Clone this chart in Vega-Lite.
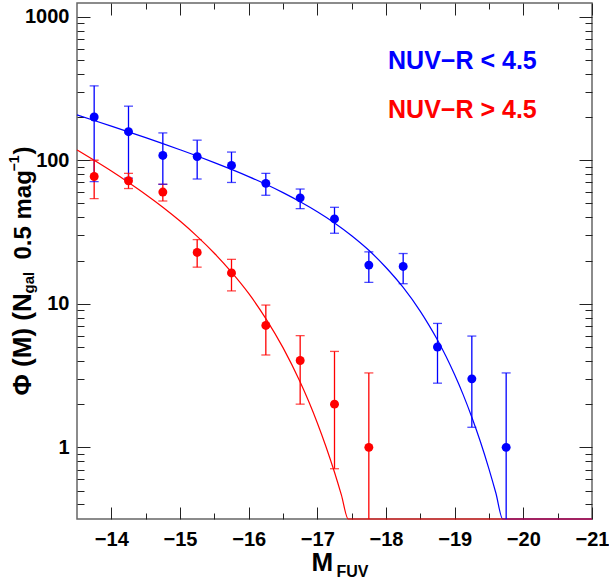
{
  "$schema": "https://vega.github.io/schema/vega-lite/v6.json",
  "width": 515,
  "height": 516,
  "autosize": {"type": "none"},
  "padding": {"left": 77, "top": 3, "right": 17, "bottom": 63},
  "config": {
    "view": {"stroke": "#666666", "strokeWidth": 1.5},
    "font": "Liberation Sans",
    "axis": {
      "labelFont": "Liberation Sans", "labelFontWeight": "bold", "labelFontSize": 20, "labelColor": "#000000",
      "titleFont": "Liberation Sans", "titleFontWeight": "bold", "titleColor": "#000000",
      "tickColor": "#222222", "tickWidth": 1, "domain": false, "grid": false,
      "labelFlush": false, "labelOverlap": false, "labelBound": false
    }
  },
  "datasets": {
    "curves": [
      {"series": "NUV−R < 4.5", "M": -13.5, "phi": 206.9},
      {"series": "NUV−R < 4.5", "M": -13.75, "phi": 189.2},
      {"series": "NUV−R < 4.5", "M": -14.0, "phi": 172.8},
      {"series": "NUV−R < 4.5", "M": -14.25, "phi": 157.6},
      {"series": "NUV−R < 4.5", "M": -14.5, "phi": 143.6},
      {"series": "NUV−R < 4.5", "M": -14.75, "phi": 130.5},
      {"series": "NUV−R < 4.5", "M": -15.0, "phi": 118.3},
      {"series": "NUV−R < 4.5", "M": -15.25, "phi": 107.0},
      {"series": "NUV−R < 4.5", "M": -15.5, "phi": 96.3},
      {"series": "NUV−R < 4.5", "M": -15.75, "phi": 86.3},
      {"series": "NUV−R < 4.5", "M": -16.0, "phi": 76.9},
      {"series": "NUV−R < 4.5", "M": -16.25, "phi": 68.0},
      {"series": "NUV−R < 4.5", "M": -16.5, "phi": 59.5},
      {"series": "NUV−R < 4.5", "M": -16.75, "phi": 51.4},
      {"series": "NUV−R < 4.5", "M": -17.0, "phi": 43.8},
      {"series": "NUV−R < 4.5", "M": -17.25, "phi": 36.6},
      {"series": "NUV−R < 4.5", "M": -17.5, "phi": 29.8},
      {"series": "NUV−R < 4.5", "M": -17.75, "phi": 23.6},
      {"series": "NUV−R < 4.5", "M": -18.0, "phi": 17.9},
      {"series": "NUV−R < 4.5", "M": -18.25, "phi": 13.0},
      {"series": "NUV−R < 4.5", "M": -18.5, "phi": 8.86},
      {"series": "NUV−R < 4.5", "M": -18.625, "phi": 7.11},
      {"series": "NUV−R < 4.5", "M": -18.75, "phi": 5.6},
      {"series": "NUV−R < 4.5", "M": -18.875, "phi": 4.29},
      {"series": "NUV−R < 4.5", "M": -19.0, "phi": 3.2},
      {"series": "NUV−R < 4.5", "M": -19.125, "phi": 2.32},
      {"series": "NUV−R < 4.5", "M": -19.25, "phi": 1.62},
      {"series": "NUV−R < 4.5", "M": -19.375, "phi": 1.094},
      {"series": "NUV−R < 4.5", "M": -19.5, "phi": 0.706},
      {"series": "NUV−R < 4.5", "M": -19.6, "phi": 0.481},
      {"series": "NUV−R < 4.5", "M": -19.7, "phi": 0.316},
      {"series": "NUV−R < 4.5", "M": -19.8, "phi": 0.2006},
      {"series": "NUV−R < 4.5", "M": -20.0, "phi": 0.071},
      {"series": "NUV−R < 4.5", "M": -21.0, "phi": 0.0000085},
      {"series": "NUV−R > 4.5", "M": -13.5, "phi": 117.9},
      {"series": "NUV−R > 4.5", "M": -13.75, "phi": 99.8},
      {"series": "NUV−R > 4.5", "M": -14.0, "phi": 84.0},
      {"series": "NUV−R > 4.5", "M": -14.25, "phi": 70.0},
      {"series": "NUV−R > 4.5", "M": -14.5, "phi": 57.8},
      {"series": "NUV−R > 4.5", "M": -14.75, "phi": 47.1},
      {"series": "NUV−R > 4.5", "M": -15.0, "phi": 37.7},
      {"series": "NUV−R > 4.5", "M": -15.25, "phi": 29.5},
      {"series": "NUV−R > 4.5", "M": -15.5, "phi": 22.5},
      {"series": "NUV−R > 4.5", "M": -15.75, "phi": 16.6},
      {"series": "NUV−R > 4.5", "M": -16.0, "phi": 11.8},
      {"series": "NUV−R > 4.5", "M": -16.25, "phi": 7.89},
      {"series": "NUV−R > 4.5", "M": -16.5, "phi": 4.95},
      {"series": "NUV−R > 4.5", "M": -16.75, "phi": 2.85},
      {"series": "NUV−R > 4.5", "M": -16.875, "phi": 2.085},
      {"series": "NUV−R > 4.5", "M": -17.0, "phi": 1.48},
      {"series": "NUV−R > 4.5", "M": -17.125, "phi": 1.015},
      {"series": "NUV−R > 4.5", "M": -17.25, "phi": 0.671},
      {"series": "NUV−R > 4.5", "M": -17.35, "phi": 0.467},
      {"series": "NUV−R > 4.5", "M": -17.45, "phi": 0.316},
      {"series": "NUV−R > 4.5", "M": -17.55, "phi": 0.207},
      {"series": "NUV−R > 4.5", "M": -18.0, "phi": 0.0189},
      {"series": "NUV−R > 4.5", "M": -21.0, "phi": 1e-20}
    ],
    "points": [
      {"series": "NUV−R < 4.5", "M": -13.75, "phi": 200, "lo": 71, "hi": 330},
      {"series": "NUV−R < 4.5", "M": -14.25, "phi": 158, "lo": 75, "hi": 238},
      {"series": "NUV−R < 4.5", "M": -14.75, "phi": 108, "lo": 68, "hi": 155},
      {"series": "NUV−R < 4.5", "M": -15.25, "phi": 106, "lo": 74, "hi": 138},
      {"series": "NUV−R < 4.5", "M": -15.75, "phi": 92, "lo": 70, "hi": 114},
      {"series": "NUV−R < 4.5", "M": -16.25, "phi": 69, "lo": 57, "hi": 81},
      {"series": "NUV−R < 4.5", "M": -16.75, "phi": 54.7, "lo": 46, "hi": 63},
      {"series": "NUV−R < 4.5", "M": -17.25, "phi": 39, "lo": 31, "hi": 47},
      {"series": "NUV−R < 4.5", "M": -17.75, "phi": 18.6, "lo": 14.1, "hi": 23},
      {"series": "NUV−R < 4.5", "M": -18.25, "phi": 18.2, "lo": 13.8, "hi": 22.4},
      {"series": "NUV−R < 4.5", "M": -18.75, "phi": 5.0, "lo": 2.8, "hi": 7.3},
      {"series": "NUV−R < 4.5", "M": -19.25, "phi": 3.0, "lo": 1.38, "hi": 5.96},
      {"series": "NUV−R < 4.5", "M": -19.75, "phi": 1.0, "lo": 0.1, "hi": 3.3},
      {"series": "NUV−R > 4.5", "M": -13.75, "phi": 77, "lo": 54, "hi": 100},
      {"series": "NUV−R > 4.5", "M": -14.25, "phi": 72, "lo": 63.5, "hi": 81},
      {"series": "NUV−R > 4.5", "M": -14.75, "phi": 60, "lo": 52, "hi": 68},
      {"series": "NUV−R > 4.5", "M": -15.25, "phi": 22.8, "lo": 18, "hi": 28},
      {"series": "NUV−R > 4.5", "M": -15.75, "phi": 16.4, "lo": 12.3, "hi": 20.4},
      {"series": "NUV−R > 4.5", "M": -16.25, "phi": 7.07, "lo": 4.4, "hi": 9.8},
      {"series": "NUV−R > 4.5", "M": -16.75, "phi": 4.03, "lo": 2.0, "hi": 6.0},
      {"series": "NUV−R > 4.5", "M": -17.25, "phi": 2.0, "lo": 0.71, "hi": 4.66},
      {"series": "NUV−R > 4.5", "M": -17.75, "phi": 1.0, "lo": 0.1, "hi": 3.3}
    ]
  },
  "resolve": {
    "scale": {"x": "shared", "y": "shared", "color": "shared"},
    "axis": {"x": "independent", "y": "independent"}
  },
  "layer": [
    {
      "data": {"name": "curves"},
      "mark": {"type": "line", "strokeWidth": 1.2, "interpolate": "monotone"},
      "encoding": {
        "x": {"field": "M", "type": "quantitative",
          "scale": {"domain": [-21, -13.5], "reverse": true, "nice": false, "zero": false},
          "axis": {"orient": "bottom", "values": [-14, -15, -16, -17, -18, -19, -20, -21], "ticks": false, "labels": true, "labelPadding": 10, "format": "d",
            "title": "M", "titleX": 234, "titleY": 51, "titleAlign": "left", "titleBaseline": "alphabetic", "titleAngle": 0, "titleFontSize": 26}},
        "y": {"field": "phi", "type": "quantitative",
          "scale": {"type": "log", "domain": [0.317, 1245], "nice": false, "clamp": true},
          "axis": {"orient": "left", "values": [1, 10, 100, 1000], "ticks": false, "labels": true, "labelPadding": 8, "format": "d",
            "title": "Φ (M) (N", "titleX": -47, "titleY": 392, "titleAngle": -90, "titleAlign": "left", "titleBaseline": "alphabetic", "titleFontSize": 26}},
        "color": {"field": "series", "type": "nominal", "scale": {"domain": ["NUV−R < 4.5", "NUV−R > 4.5"], "range": ["#0000ff", "#ff0000"]}, "legend": null}
      }
    },
    {
      "data": {"name": "points"},
      "mark": {"type": "rule", "strokeWidth": 1.3},
      "encoding": {
        "x": {"field": "M", "type": "quantitative",
          "scale": {"domain": [-21, -13.5], "reverse": true, "nice": false, "zero": false},
          "axis": {"orient": "bottom", "values": [-14, -15, -16, -17, -18, -19, -20, -21], "ticks": true, "tickSize": -12, "labels": false,
            "title": "FUV", "titleX": 259, "titleY": 57.5, "titleAlign": "left", "titleBaseline": "alphabetic", "titleAngle": 0, "titleFontSize": 16}},
        "y": {"field": "lo", "type": "quantitative",
          "scale": {"type": "log", "domain": [0.317, 1245], "nice": false, "clamp": true},
          "axis": {"orient": "left", "values": [1, 10, 100, 1000], "ticks": true, "tickSize": -13, "labels": false,
            "title": "gal", "titleX": -44, "titleY": 290, "titleAngle": -90, "titleAlign": "left", "titleBaseline": "alphabetic", "titleFontSize": 15}},
        "y2": {"field": "hi"},
        "color": {"field": "series", "type": "nominal", "scale": {"domain": ["NUV−R < 4.5", "NUV−R > 4.5"], "range": ["#0000ff", "#ff0000"]}, "legend": null}
      }
    },
    {
      "data": {"name": "points"},
      "mark": {"type": "tick", "orient": "horizontal", "size": 9, "thickness": 1.3},
      "encoding": {
        "x": {"field": "M", "type": "quantitative",
          "scale": {"domain": [-21, -13.5], "reverse": true, "nice": false, "zero": false},
          "axis": {"orient": "bottom", "values": [-14.5, -15.5, -16.5, -17.5, -18.5, -19.5, -20.5], "ticks": true, "tickSize": -6, "labels": false, "title": null}},
        "y": {"field": "hi", "type": "quantitative",
          "scale": {"type": "log", "domain": [0.317, 1245], "nice": false, "clamp": true},
          "axis": {"orient": "left", "values": [0.4, 0.5, 0.6, 0.7, 0.8, 0.9, 2, 3, 4, 5, 6, 7, 8, 9, 20, 30, 40, 50, 60, 70, 80, 90, 200, 300, 400, 500, 600, 700, 800, 900], "ticks": true, "tickSize": -7, "labels": false,
            "title": "0.5 mag", "titleX": -47, "titleY": 256, "titleAngle": -90, "titleAlign": "left", "titleBaseline": "alphabetic", "titleFontSize": 24}},
        "color": {"field": "series", "type": "nominal", "scale": {"domain": ["NUV−R < 4.5", "NUV−R > 4.5"], "range": ["#0000ff", "#ff0000"]}, "legend": null}
      }
    },
    {
      "data": {"name": "points"},
      "transform": [{"filter": "datum.lo > 0.317"}],
      "mark": {"type": "tick", "orient": "horizontal", "size": 9, "thickness": 1.3},
      "encoding": {
        "x": {"field": "M", "type": "quantitative",
          "scale": {"domain": [-21, -13.5], "reverse": true, "nice": false, "zero": false},
          "axis": {"orient": "top", "values": [-14, -15, -16, -17, -18, -19, -20, -21], "ticks": true, "tickSize": -12, "labels": false, "title": null}},
        "y": {"field": "lo", "type": "quantitative",
          "scale": {"type": "log", "domain": [0.317, 1245], "nice": false, "clamp": true},
          "axis": {"orient": "right", "values": [1, 10, 100, 1000], "ticks": true, "tickSize": -13, "labels": false,
            "title": "−1", "titleX": -574, "titleY": 168, "titleAngle": -90, "titleAlign": "left", "titleBaseline": "alphabetic", "titleFontSize": 14}},
        "color": {"field": "series", "type": "nominal", "scale": {"domain": ["NUV−R < 4.5", "NUV−R > 4.5"], "range": ["#0000ff", "#ff0000"]}, "legend": null}
      }
    },
    {
      "data": {"name": "points"},
      "mark": {"type": "circle", "size": 80, "opacity": 1},
      "encoding": {
        "x": {"field": "M", "type": "quantitative",
          "scale": {"domain": [-21, -13.5], "reverse": true, "nice": false, "zero": false},
          "axis": {"orient": "top", "values": [-14.5, -15.5, -16.5, -17.5, -18.5, -19.5, -20.5], "ticks": true, "tickSize": -6, "labels": false, "title": null}},
        "y": {"field": "phi", "type": "quantitative",
          "scale": {"type": "log", "domain": [0.317, 1245], "nice": false, "clamp": true},
          "axis": {"orient": "right", "values": [0.4, 0.5, 0.6, 0.7, 0.8, 0.9, 2, 3, 4, 5, 6, 7, 8, 9, 20, 30, 40, 50, 60, 70, 80, 90, 200, 300, 400, 500, 600, 700, 800, 900], "ticks": true, "tickSize": -7, "labels": false,
            "title": ")", "titleX": -562, "titleY": 151, "titleAngle": -90, "titleAlign": "left", "titleBaseline": "alphabetic", "titleFontSize": 24}},
        "color": {"field": "series", "type": "nominal", "scale": {"domain": ["NUV−R < 4.5", "NUV−R > 4.5"], "range": ["#0000ff", "#ff0000"]}, "legend": null}
      }
    },
    {
      "data": {"values": [{"label": "NUV−R < 4.5"}]},
      "mark": {"type": "text", "align": "left", "baseline": "alphabetic", "font": "Liberation Sans", "fontWeight": "bold", "fontSize": 25, "color": "#0000ff"},
      "encoding": {
        "x": {"datum": -18.03, "type": "quantitative", "scale": {"domain": [-21, -13.5], "reverse": true, "nice": false, "zero": false}, "axis": null},
        "y": {"datum": 432, "type": "quantitative", "scale": {"type": "log", "domain": [0.317, 1245], "nice": false, "clamp": true}, "axis": null},
        "text": {"field": "label"}
      }
    },
    {
      "data": {"values": [{"label": "NUV−R > 4.5"}]},
      "mark": {"type": "text", "align": "left", "baseline": "alphabetic", "font": "Liberation Sans", "fontWeight": "bold", "fontSize": 25, "color": "#ff0000"},
      "encoding": {
        "x": {"datum": -18.03, "type": "quantitative", "scale": {"domain": [-21, -13.5], "reverse": true, "nice": false, "zero": false}, "axis": null},
        "y": {"datum": 197, "type": "quantitative", "scale": {"type": "log", "domain": [0.317, 1245], "nice": false, "clamp": true}, "axis": null},
        "text": {"field": "label"}
      }
    }
  ]
}
